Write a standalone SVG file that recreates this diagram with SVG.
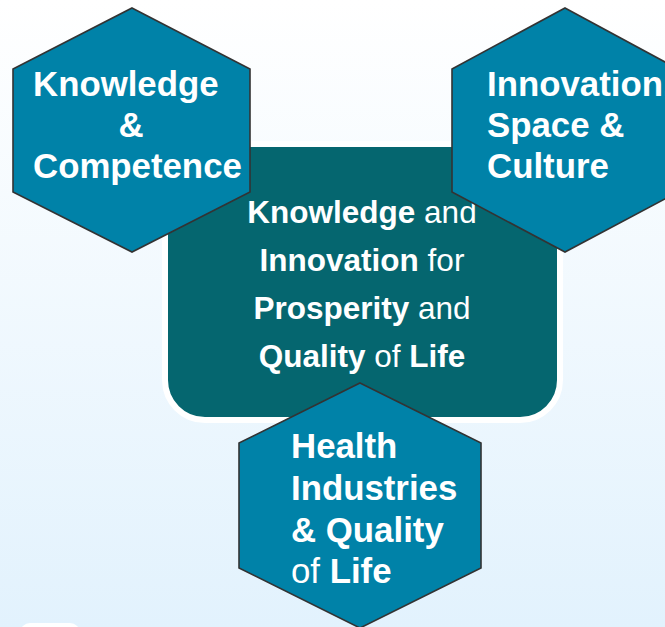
<svg xmlns="http://www.w3.org/2000/svg" width="665" height="627" viewBox="0 0 665 627">
<defs>
<linearGradient id="bg" x1="0" y1="0" x2="0" y2="1">
<stop offset="0" stop-color="#ffffff"/>
<stop offset="1" stop-color="#e2f2fd"/>
</linearGradient>
</defs>
<style>
.hex{fill:#0082a8;stroke:#333333;stroke-width:1.6}
.t{font-family:"Liberation Sans",Arial,sans-serif;fill:#ffffff}
.b{font-weight:bold}
.n{font-weight:normal}
.h{font-size:34.8px}
.c{font-size:31.5px}
</style>
<rect width="665" height="627" fill="url(#bg)"/>
<rect x="20" y="623" width="60" height="20" rx="10" fill="#ffffff"/>
<g id="center">
<rect x="165" y="144" width="395" height="276" rx="40" fill="#05666f" stroke="#ffffff" stroke-width="6"/>
<text class="t c" text-anchor="middle"><tspan x="362" y="223"><tspan class="b">Knowledge</tspan> and</tspan><tspan x="362" y="271"><tspan class="b">Innovation</tspan> for</tspan><tspan x="362" y="319"><tspan class="b">Prosperity</tspan> and</tspan><tspan x="362" y="367"><tspan class="b">Quality</tspan> of <tspan class="b">Life</tspan></tspan></text>
</g>
<g id="hex-knowledge">
<polygon class="hex" points="132,8 250,69 250,192 132,252 13,192 13,69"/>
<text class="t h b"><tspan x="33" y="96">Knowledge</tspan><tspan x="131" y="137" text-anchor="middle">&amp;</tspan><tspan x="33" y="178">Competence</tspan></text>
</g>
<g id="hex-innovation">
<polygon class="hex" points="565,8 678,69 678,192 565,252 452,192 452,69"/>
<text class="t h b"><tspan x="487" y="96">Innovation,</tspan><tspan x="487" y="137">Space &amp;</tspan><tspan x="487" y="178">Culture</tspan></text>
</g>
<g id="hex-health">
<polygon class="hex" points="360,383 481,443 481,568 360,628 239,568 239,443"/>
<text class="t h b"><tspan x="291" y="458">Health</tspan><tspan x="291" y="500">Industries</tspan><tspan x="291" y="542">&amp; Quality</tspan><tspan x="291" y="583"><tspan class="n">of</tspan> Life</tspan></text>
</g>
<g id="connectors"></g>
</svg>
